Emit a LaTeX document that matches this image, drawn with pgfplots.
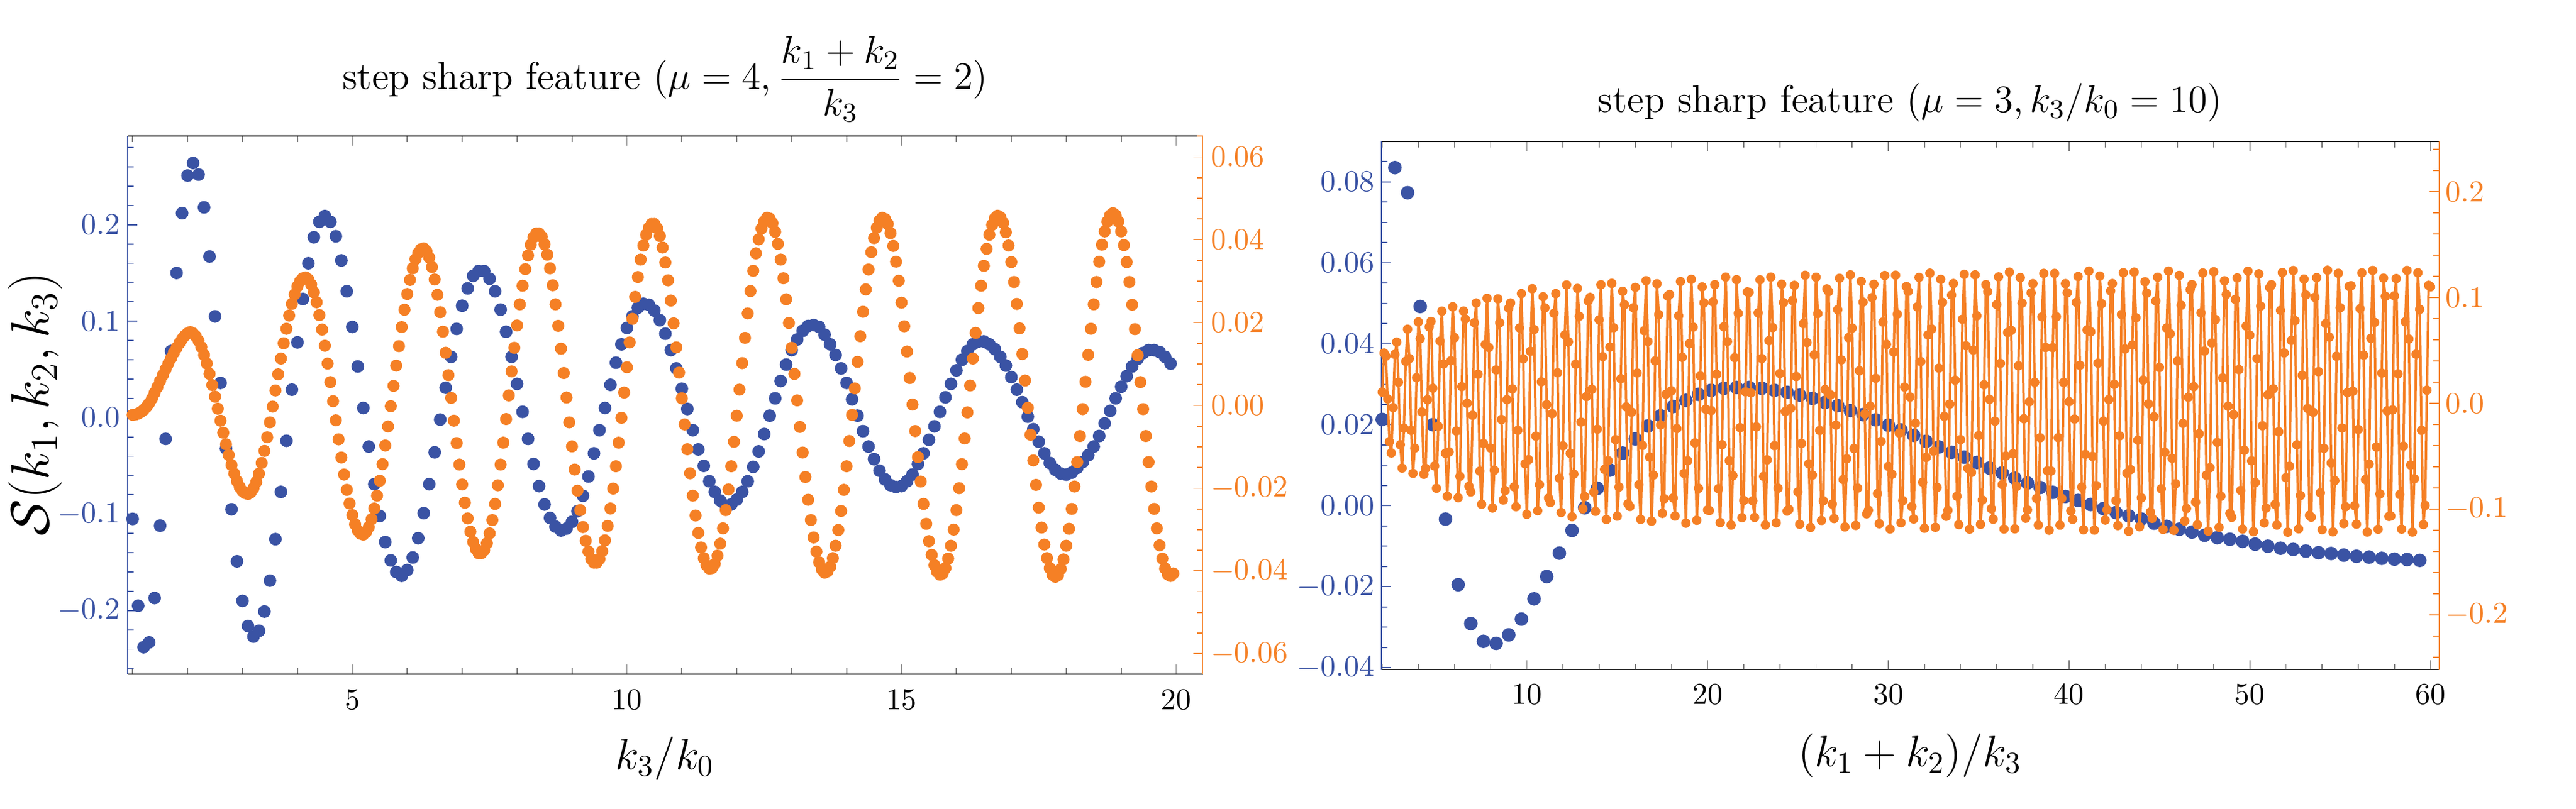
\documentclass[border=0pt]{standalone}
\usepackage{fix-cm}
\usepackage{pgfplots}
\pgfplotsset{compat=1.18}
\definecolor{sblue}{RGB}{58,83,164}
\definecolor{sorange}{RGB}{245,128,37}
\pgfplotsset{
  panel/.style={
    scale only axis, anchor=south west, clip=false,
    tick align=inside,
    major tick length=3.2pt, minor tick length=2pt,
    tick style={line width=0.35pt},
    axis line style={line width=0.35pt},
    tick label style={font=\fontsize{10}{12}\selectfont},
    scaled x ticks=false, scaled y ticks=false,
  },
}
\begin{document}
\begin{tikzpicture}
\useasboundingbox (0,0) rectangle (851.8pt,267.6pt);
% ---------------- left panel, blue series ----------------
\begin{axis}[panel,
  at={(42.1pt,44.62pt)}, width=355.6pt, height=177.92pt,
  xmin=0.903, xmax=20.485, ymin=-0.2659, ymax=0.2918,
  separate axis lines,
  x axis line style={black},
  y axis line style={sblue},
  xtick={5,10,15,20},
  minor xtick={1,2,3,4,6,7,8,9,11,12,13,14,16,17,18,19},
  xtick pos=both, xticklabel pos=left,
  ytick={-0.2,-0.1,0,0.1,0.2},
  minor ytick={-0.26,-0.24,-0.22,-0.18,-0.16,-0.14,-0.12,-0.08,-0.06,-0.04,-0.02,0.02,0.04,0.06,0.08,0.12,0.14,0.16,0.18,0.22,0.24,0.26,0.28},
  ytick pos=left,
  ytick style={color=sblue},
  xticklabel style={anchor=north, inner sep=0pt, yshift=-5pt},
  yticklabel style={color=sblue, anchor=east, inner sep=0pt, xshift=-2.3pt,
    /pgf/number format/fixed, /pgf/number format/fixed zerofill, /pgf/number format/precision=1},
]
\addplot[only marks, mark=*, mark size=1.9pt, color=sblue, mark options={draw=none}] coordinates {
(1.0,-0.105)(1.1,-0.195)(1.2,-0.238)(1.3,-0.233)(1.4,-0.187)(1.5,-0.112)(1.6,-0.022)(1.7,0.069)(1.8,0.150)(1.9,0.212)
(2.0,0.251)(2.1,0.264)(2.2,0.252)(2.3,0.218)(2.4,0.167)(2.5,0.105)(2.6,0.036)(2.7,-0.032)(2.8,-0.095)(2.9,-0.149)
(3.0,-0.190)(3.1,-0.216)(3.2,-0.227)(3.3,-0.221)(3.4,-0.201)(3.5,-0.169)(3.6,-0.126)(3.7,-0.077)(3.8,-0.024)(3.9,0.029)
(4.0,0.078)(4.1,0.123)(4.2,0.160)(4.3,0.187)(4.4,0.203)(4.5,0.209)(4.6,0.203)(4.7,0.188)(4.8,0.163)(4.9,0.131)
(5.0,0.094)(5.1,0.053)(5.2,0.010)(5.3,-0.030)(5.4,-0.069)(5.5,-0.102)(5.6,-0.129)(5.7,-0.148)(5.8,-0.160)(5.9,-0.164)
(6.0,-0.158)(6.1,-0.145)(6.2,-0.125)(6.3,-0.099)(6.4,-0.069)(6.5,-0.036)(6.6,-0.002)(6.7,0.031)(6.8,0.063)(6.9,0.092)
(7.0,0.116)(7.1,0.134)(7.2,0.147)(7.3,0.152)(7.4,0.152)(7.5,0.144)(7.6,0.131)(7.7,0.112)(7.8,0.089)(7.9,0.063)
(8.0,0.035)(8.1,0.006)(8.2,-0.022)(8.3,-0.048)(8.4,-0.071)(8.5,-0.090)(8.6,-0.104)(8.7,-0.113)(8.8,-0.117)(8.9,-0.115)
(9.0,-0.108)(9.1,-0.097)(9.2,-0.081)(9.3,-0.061)(9.4,-0.037)(9.5,-0.013)(9.6,0.010)(9.7,0.034)(9.8,0.057)(9.9,0.076)
(10.0,0.093)(10.1,0.105)(10.2,0.114)(10.3,0.118)(10.4,0.117)(10.5,0.111)(10.6,0.101)(10.7,0.087)(10.8,0.070)(10.9,0.051)
(11.0,0.030)(11.1,0.009)(11.2,-0.013)(11.3,-0.033)(11.4,-0.050)(11.5,-0.066)(11.6,-0.077)(11.7,-0.086)(11.8,-0.091)(11.9,-0.090)
(12.0,-0.085)(12.1,-0.077)(12.2,-0.066)(12.3,-0.051)(12.4,-0.035)(12.5,-0.017)(12.6,0.002)(12.7,0.020)(12.8,0.038)(12.9,0.055)
(13.0,0.070)(13.1,0.081)(13.2,0.090)(13.3,0.095)(13.4,0.096)(13.5,0.094)(13.6,0.086)(13.7,0.076)(13.8,0.065)(13.9,0.051)
(14.0,0.036)(14.1,0.019)(14.2,0.002)(14.3,-0.014)(14.4,-0.030)(14.5,-0.043)(14.6,-0.055)(14.7,-0.064)(14.8,-0.070)(14.9,-0.072)
(15.0,-0.071)(15.1,-0.066)(15.2,-0.059)(15.3,-0.048)(15.4,-0.037)(15.5,-0.023)(15.6,-0.009)(15.7,0.006)(15.8,0.021)(15.9,0.035)
(16.0,0.049)(16.1,0.060)(16.2,0.069)(16.3,0.076)(16.4,0.079)(16.5,0.079)(16.6,0.076)(16.7,0.071)(16.8,0.063)(16.9,0.054)
(17.0,0.042)(17.1,0.029)(17.2,0.016)(17.3,0.001)(17.4,-0.012)(17.5,-0.025)(17.6,-0.037)(17.7,-0.047)(17.8,-0.054)(17.9,-0.058)
(18.0,-0.059)(18.1,-0.057)(18.2,-0.052)(18.3,-0.046)(18.4,-0.039)(18.5,-0.030)(18.6,-0.019)(18.7,-0.006)(18.8,0.007)(18.9,0.020)
(19.0,0.032)(19.1,0.043)(19.2,0.053)(19.3,0.061)(19.4,0.067)(19.5,0.070)(19.6,0.070)(19.7,0.068)(19.8,0.063)(19.9,0.056)
};
\end{axis}
% ---------------- left panel, orange series ----------------
\begin{axis}[panel,
  at={(42.1pt,44.62pt)}, width=355.6pt, height=177.92pt,
  xmin=0.903, xmax=20.485, ymin=-0.0649, ymax=0.065,
  axis x line=none, axis y line*=right,
  y axis line style={sorange, -},
  xtick=\empty,
  ytick={-0.06,-0.04,-0.02,0,0.02,0.04,0.06},
  minor ytick={-0.065,-0.055,-0.05,-0.045,-0.035,-0.03,-0.025,-0.015,-0.01,-0.005,0.005,0.01,0.015,0.025,0.03,0.035,0.045,0.05,0.055,0.065},
  ytick style={color=sorange},
  yticklabel style={color=sorange, anchor=west, inner sep=0pt, xshift=2.5pt,
    /pgf/number format/fixed, /pgf/number format/fixed zerofill, /pgf/number format/precision=2},
]
\addplot[only marks, mark=*, mark size=1.8pt, color=sorange, mark options={draw=none}] coordinates {
(1.00,-0.0023)(1.05,-0.0022)(1.10,-0.0020)(1.15,-0.0016)(1.20,-0.0011)(1.25,-0.0004)(1.30,0.0005)(1.35,0.0016)(1.40,0.0030)(1.45,0.0044)
(1.50,0.0059)(1.55,0.0073)(1.60,0.0087)(1.65,0.0101)(1.70,0.0114)(1.75,0.0127)(1.80,0.0139)(1.85,0.0150)(1.90,0.0160)(1.95,0.0168)
(2.00,0.0174)(2.05,0.0177)(2.10,0.0174)(2.15,0.0167)(2.20,0.0156)(2.25,0.0141)(2.30,0.0122)(2.35,0.0101)(2.40,0.0076)(2.45,0.0049)
(2.50,0.0021)(2.55,-0.0008)(2.60,-0.0037)(2.65,-0.0066)(2.70,-0.0094)(2.75,-0.0120)(2.80,-0.0144)(2.85,-0.0165)(2.90,-0.0183)(2.95,-0.0197)
(3.00,-0.0207)(3.05,-0.0212)(3.10,-0.0214)(3.15,-0.0210)(3.20,-0.0200)(3.25,-0.0185)(3.30,-0.0165)(3.35,-0.0139)(3.40,-0.0110)(3.45,-0.0077)
(3.50,-0.0041)(3.55,-0.0003)(3.60,0.0036)(3.65,0.0075)(3.70,0.0113)(3.75,0.0150)(3.80,0.0185)(3.85,0.0217)(3.90,0.0245)(3.95,0.0268)
(4.00,0.0287)(4.05,0.0300)(4.10,0.0307)(4.15,0.0309)(4.20,0.0304)(4.25,0.0292)(4.30,0.0273)(4.35,0.0249)(4.40,0.0218)(4.45,0.0183)
(4.50,0.0144)(4.55,0.0101)(4.60,0.0056)(4.65,0.0010)(4.70,-0.0036)(4.75,-0.0082)(4.80,-0.0126)(4.85,-0.0167)(4.90,-0.0204)(4.95,-0.0237)
(5.00,-0.0265)(5.05,-0.0287)(5.10,-0.0302)(5.15,-0.0310)(5.20,-0.0312)(5.25,-0.0306)(5.30,-0.0294)(5.35,-0.0275)(5.40,-0.0249)(5.45,-0.0218)
(5.50,-0.0182)(5.55,-0.0142)(5.60,-0.0097)(5.65,-0.0051)(5.70,-0.0002)(5.75,0.0047)(5.80,0.0096)(5.85,0.0143)(5.90,0.0189)(5.95,0.0231)
(6.00,0.0269)(6.05,0.0303)(6.10,0.0331)(6.15,0.0353)(6.20,0.0368)(6.25,0.0377)(6.30,0.0379)(6.35,0.0372)(6.40,0.0357)(6.45,0.0334)
(6.50,0.0304)(6.55,0.0267)(6.60,0.0225)(6.65,0.0178)(6.70,0.0127)(6.75,0.0073)(6.80,0.0018)(6.85,-0.0037)(6.90,-0.0091)(6.95,-0.0143)
(7.00,-0.0191)(7.05,-0.0235)(7.10,-0.0273)(7.15,-0.0305)(7.20,-0.0330)(7.25,-0.0347)(7.30,-0.0357)(7.35,-0.0357)(7.40,-0.0350)(7.45,-0.0333)
(7.50,-0.0309)(7.55,-0.0277)(7.60,-0.0238)(7.65,-0.0193)(7.70,-0.0143)(7.75,-0.0090)(7.80,-0.0033)(7.85,0.0024)(7.90,0.0082)(7.95,0.0139)
(8.00,0.0193)(8.05,0.0244)(8.10,0.0289)(8.15,0.0329)(8.20,0.0362)(8.25,0.0388)(8.30,0.0406)(8.35,0.0415)(8.40,0.0415)(8.45,0.0407)
(8.50,0.0389)(8.55,0.0364)(8.60,0.0331)(8.65,0.0290)(8.70,0.0244)(8.75,0.0192)(8.80,0.0137)(8.85,0.0078)(8.90,0.0019)(8.95,-0.0041)
(9.00,-0.0099)(9.05,-0.0155)(9.10,-0.0206)(9.15,-0.0253)(9.20,-0.0294)(9.25,-0.0327)(9.30,-0.0353)(9.35,-0.0371)(9.40,-0.0380)(9.45,-0.0380)
(9.50,-0.0371)(9.55,-0.0352)(9.60,-0.0326)(9.65,-0.0291)(9.70,-0.0249)(9.75,-0.0201)(9.80,-0.0147)(9.85,-0.0090)(9.90,-0.0030)(9.95,0.0031)
(10.00,0.0092)(10.05,0.0152)(10.10,0.0209)(10.15,0.0262)(10.20,0.0310)(10.25,0.0352)(10.30,0.0386)(10.35,0.0412)(10.40,0.0429)(10.45,0.0438)
(10.50,0.0438)(10.55,0.0428)(10.60,0.0409)(10.65,0.0381)(10.70,0.0345)(10.75,0.0302)(10.80,0.0253)(10.85,0.0198)(10.90,0.0140)(10.95,0.0079)
(11.00,0.0017)(11.05,-0.0046)(11.10,-0.0106)(11.15,-0.0164)(11.20,-0.0218)(11.25,-0.0266)(11.30,-0.0308)(11.35,-0.0343)(11.40,-0.0369)(11.45,-0.0386)
(11.50,-0.0394)(11.55,-0.0393)(11.60,-0.0383)(11.65,-0.0363)(11.70,-0.0334)(11.75,-0.0297)(11.80,-0.0253)(11.85,-0.0203)(11.90,-0.0147)(11.95,-0.0088)
(12.00,-0.0025)(12.05,0.0038)(12.10,0.0102)(12.15,0.0163)(12.20,0.0222)(12.25,0.0276)(12.30,0.0325)(12.35,0.0367)(12.40,0.0401)(12.45,0.0427)
(12.50,0.0444)(12.55,0.0453)(12.60,0.0451)(12.65,0.0440)(12.70,0.0419)(12.75,0.0390)(12.80,0.0352)(12.85,0.0307)(12.90,0.0256)(12.95,0.0199)
(13.00,0.0139)(13.05,0.0076)(13.10,0.0012)(13.15,-0.0052)(13.20,-0.0114)(13.25,-0.0173)(13.30,-0.0228)(13.35,-0.0277)(13.40,-0.0319)(13.45,-0.0353)
(13.50,-0.0379)(13.55,-0.0396)(13.60,-0.0404)(13.65,-0.0401)(13.70,-0.0390)(13.75,-0.0369)(13.80,-0.0339)(13.85,-0.0301)(13.90,-0.0255)(13.95,-0.0204)
(14.00,-0.0147)(14.05,-0.0086)(14.10,-0.0023)(14.15,0.0041)(14.20,0.0105)(14.25,0.0167)(14.30,0.0226)(14.35,0.0280)(14.40,0.0328)(14.45,0.0370)
(14.50,0.0404)(14.55,0.0429)(14.60,0.0446)(14.65,0.0453)(14.70,0.0450)(14.75,0.0438)(14.80,0.0416)(14.85,0.0385)(14.90,0.0347)(14.95,0.0301)
(15.00,0.0248)(15.05,0.0191)(15.10,0.0130)(15.15,0.0066)(15.20,0.0002)(15.25,-0.0062)(15.30,-0.0125)(15.35,-0.0184)(15.40,-0.0238)(15.45,-0.0286)
(15.50,-0.0328)(15.55,-0.0361)(15.60,-0.0386)(15.65,-0.0402)(15.70,-0.0409)(15.75,-0.0406)(15.80,-0.0393)(15.85,-0.0370)(15.90,-0.0339)(15.95,-0.0300)
(16.00,-0.0253)(16.05,-0.0200)(16.10,-0.0142)(16.15,-0.0080)(16.20,-0.0017)(16.25,0.0048)(16.30,0.0113)(16.35,0.0175)(16.40,0.0235)(16.45,0.0289)
(16.50,0.0337)(16.55,0.0378)(16.60,0.0412)(16.65,0.0436)(16.70,0.0452)(16.75,0.0458)(16.80,0.0454)(16.85,0.0441)(16.90,0.0418)(16.95,0.0386)
(17.00,0.0346)(17.05,0.0298)(17.10,0.0245)(17.15,0.0186)(17.20,0.0124)(17.25,0.0060)(17.30,-0.0006)(17.35,-0.0071)(17.40,-0.0133)(17.45,-0.0192)
(17.50,-0.0247)(17.55,-0.0295)(17.60,-0.0336)(17.65,-0.0369)(17.70,-0.0393)(17.75,-0.0409)(17.80,-0.0414)(17.85,-0.0410)(17.90,-0.0395)(17.95,-0.0372)
(18.00,-0.0339)(18.05,-0.0298)(18.10,-0.0250)(18.15,-0.0196)(18.20,-0.0137)(18.25,-0.0074)(18.30,-0.0009)(18.35,0.0057)(18.40,0.0122)(18.45,0.0185)
(18.50,0.0244)(18.55,0.0298)(18.60,0.0347)(18.65,0.0388)(18.70,0.0420)(18.75,0.0444)(18.80,0.0459)(18.85,0.0464)(18.90,0.0459)(18.95,0.0444)
(19.00,0.0420)(19.05,0.0387)(19.10,0.0346)(19.15,0.0298)(19.20,0.0243)(19.25,0.0184)(19.30,0.0121)(19.35,0.0056)(19.40,-0.0009)(19.45,-0.0074)
(19.50,-0.0137)(19.55,-0.0196)(19.60,-0.0250)(19.65,-0.0297)(19.70,-0.0338)(19.75,-0.0370)(19.80,-0.0394)(19.85,-0.0408)(19.90,-0.0412)(19.95,-0.0406)
};
\end{axis}
% ---------------- right panel, blue series ----------------
\begin{axis}[panel,
  at={(456.76pt,46.08pt)}, width=349.78pt, height=174.78pt,
  xmin=1.95, xmax=60.475, ymin=-0.0405, ymax=0.0900,
  separate axis lines,
  x axis line style={black},
  y axis line style={sblue},
  xtick={10,20,30,40,50,60},
  minor xtick={2,4,6,8,12,14,16,18,22,24,26,28,32,34,36,38,42,44,46,48,52,54,56,58},
  xtick pos=both, xticklabel pos=left,
  ytick={-0.04,-0.02,0,0.02,0.04,0.06,0.08},
  minor ytick={-0.035,-0.03,-0.025,-0.015,-0.01,-0.005,0.005,0.01,0.015,0.025,0.03,0.035,0.045,0.05,0.055,0.065,0.07,0.075,0.085,0.09},
  ytick pos=left,
  ytick style={color=sblue},
  xticklabel style={anchor=north, inner sep=0pt, yshift=-4.7pt},
  yticklabel style={color=sblue, anchor=east, inner sep=0pt, xshift=-2.1pt,
    /pgf/number format/fixed, /pgf/number format/fixed zerofill, /pgf/number format/precision=2},
]
\addplot[only marks, mark=*, mark size=2.05pt, color=sblue, mark options={draw=none}] coordinates {
(2.0,0.0213)(2.7,0.0835)(3.4,0.0773)(4.1,0.0492)(4.8,0.0200)(5.5,-0.0033)(6.2,-0.0195)(6.9,-0.0291)(7.6,-0.0335)(8.3,-0.0340)
(9.0,-0.0319)(9.7,-0.0280)(10.4,-0.0230)(11.1,-0.0175)(11.8,-0.0117)(12.5,-0.0061)(13.2,-0.0005)(13.9,0.0043)(14.6,0.0088)(15.3,0.0130)
(16.0,0.0165)(16.7,0.0197)(17.4,0.0222)(18.1,0.0245)(18.8,0.0260)(19.5,0.0275)(20.2,0.0285)(20.9,0.0290)(21.6,0.0292)(22.3,0.0292)
(23.0,0.0290)(23.7,0.0285)(24.4,0.0280)(25.1,0.0273)(25.8,0.0265)(26.5,0.0255)(27.2,0.0247)(27.9,0.0235)(28.6,0.0225)(29.3,0.0212)
(30.0,0.0199)(30.7,0.0187)(31.4,0.0174)(32.1,0.0159)(32.8,0.0145)(33.5,0.0132)(34.2,0.0120)(34.9,0.0107)(35.6,0.0093)(36.3,0.0081)
(37.0,0.0068)(37.7,0.0056)(38.4,0.0045)(39.1,0.0033)(39.8,0.0023)(40.5,0.0013)(41.2,0.0003)(41.9,-0.0007)(42.6,-0.0017)(43.3,-0.0025)
(44.0,-0.0033)(44.7,-0.0043)(45.4,-0.0051)(46.1,-0.0058)(46.8,-0.0065)(47.5,-0.0073)(48.2,-0.0079)(48.9,-0.0083)(49.6,-0.0088)(50.3,-0.0095)
(51.0,-0.0100)(51.7,-0.0105)(52.4,-0.0108)(53.1,-0.0112)(53.8,-0.0116)(54.5,-0.0118)(55.2,-0.0122)(55.9,-0.0125)(56.6,-0.0127)(57.3,-0.0130)
(58.0,-0.0132)(58.7,-0.0133)(59.4,-0.0135)
};
\end{axis}
% ---------------- right panel, orange series ----------------
\begin{axis}[panel,
  at={(456.76pt,46.08pt)}, width=349.78pt, height=174.78pt,
  xmin=1.95, xmax=60.475, ymin=-0.2519, ymax=0.2477,
  axis x line=none, axis y line*=right,
  y axis line style={sorange, -},
  xtick=\empty,
  ytick={-0.2,-0.1,0,0.1,0.2},
  minor ytick={-0.24,-0.22,-0.18,-0.16,-0.14,-0.12,-0.08,-0.06,-0.04,-0.02,0.02,0.04,0.06,0.08,0.12,0.14,0.16,0.18,0.22,0.24},
  ytick style={color=sorange},
  yticklabel style={color=sorange, anchor=west, inner sep=0pt, xshift=2pt,
    /pgf/number format/fixed, /pgf/number format/fixed zerofill, /pgf/number format/precision=1},
]
\addplot[color=sorange, line width=0.8pt, line join=round, mark=*, mark size=1.15pt, mark options={draw=none, fill=sorange}] coordinates {
(2.0,0.0106)(2.1,0.0475)(2.2,0.0445)(2.3,0.0042)(2.4,-0.0363)(2.5,-0.0470)(2.6,-0.0042)(2.7,0.0462)(2.8,0.0578)(2.9,0.0199)
(3.0,-0.0392)(3.1,-0.0613)(3.2,-0.0235)(3.3,0.0396)(3.4,0.0700)(3.5,0.0423)(3.6,-0.0255)(3.7,-0.0663)(3.8,-0.0424)(3.9,0.0242)
(4.0,0.0769)(4.1,0.0611)(4.2,-0.0082)(4.3,-0.0671)(4.4,-0.0616)(4.5,0.0033)(4.6,0.0722)(4.7,0.0774)(4.8,0.0142)(4.9,-0.0593)
(5.0,-0.0804)(5.1,-0.0217)(5.2,0.0588)(5.3,0.0871)(5.4,0.0371)(5.5,-0.0473)(5.6,-0.0880)(5.7,-0.0460)(5.8,0.0402)(5.9,0.0912)
(6.0,0.0620)(6.1,-0.0262)(6.2,-0.0893)(6.3,-0.0691)(6.4,0.0157)(6.5,0.0872)(6.6,0.0796)(6.7,0.0000)(6.8,-0.0785)(6.9,-0.0838)
(7.0,-0.0113)(7.1,0.0762)(7.2,0.0948)(7.3,0.0274)(7.4,-0.0642)(7.5,-0.0955)(7.6,-0.0380)(7.7,0.0556)(7.8,0.0992)(7.9,0.0527)
(8.0,-0.0424)(8.1,-0.0990)(8.2,-0.0634)(8.3,0.0315)(8.4,0.0987)(8.5,0.0761)(8.6,-0.0153)(8.7,-0.0915)(8.8,-0.0826)(8.9,0.0034)
(9.0,0.0899)(9.1,0.0948)(9.2,0.0136)(9.3,-0.0790)(9.4,-0.0978)(9.5,-0.0256)(9.6,0.0712)(9.7,0.1037)(9.8,0.0420)(9.9,-0.0572)
(10.0,-0.1050)(10.1,-0.0534)(10.2,0.0491)(10.3,0.1083)(10.4,0.0697)(10.5,-0.0311)(10.6,-0.1016)(10.7,-0.0769)(10.8,0.0203)(10.9,0.1007)
(11.0,0.0902)(11.1,-0.0013)(11.2,-0.0897)(11.3,-0.0939)(11.4,-0.0099)(11.5,0.0851)(11.6,0.1037)(11.7,0.0288)(11.8,-0.0708)(11.9,-0.1033)
(12.0,-0.0402)(12.1,0.0647)(12.2,0.1119)(12.3,0.0581)(12.4,-0.0473)(12.5,-0.1073)(12.6,-0.0670)(12.7,0.0369)(12.8,0.1086)(12.9,0.0823)
(13.0,-0.0178)(13.1,-0.0998)(13.2,-0.0882)(13.3,0.0064)(13.4,0.0968)(13.5,0.1001)(13.6,0.0132)(13.7,-0.0840)(13.8,-0.1022)(13.9,-0.0245)
(14.0,0.0788)(14.1,0.1121)(14.2,0.0441)(14.3,-0.0625)(14.4,-0.1099)(14.5,-0.0543)(14.6,0.0531)(14.7,0.1134)(14.8,0.0714)(14.9,-0.0344)
(15.0,-0.1068)(15.1,-0.0792)(15.2,0.0232)(15.3,0.1059)(15.4,0.0932)(15.5,-0.0034)(15.6,-0.0951)(15.7,-0.0976)(15.8,-0.0084)(15.9,0.0903)
(16.0,0.1096)(16.1,0.0286)(16.2,-0.0770)(16.3,-0.1098)(16.4,-0.0398)(16.5,0.0686)(16.6,0.1159)(16.7,0.0584)(16.8,-0.0509)(16.9,-0.1115)
(17.0,-0.0679)(17.1,0.0401)(17.2,0.1130)(17.3,0.0839)(17.4,-0.0205)(17.5,-0.1041)(17.6,-0.0902)(17.7,0.0085)(17.8,0.1013)(17.9,0.1028)
(18.0,0.0117)(18.1,-0.0895)(18.2,-0.1067)(18.3,-0.0239)(18.4,0.0827)(18.5,0.1151)(18.6,0.0435)(18.7,-0.0663)(18.8,-0.1133)(18.9,-0.0544)
(19.0,0.0564)(19.1,0.1172)(19.2,0.0720)(19.3,-0.0375)(19.4,-0.1106)(19.5,-0.0804)(19.6,0.0258)(19.7,0.1100)(19.8,0.0949)(19.9,-0.0056)
(20.0,-0.1009)(20.1,-0.1014)(20.2,-0.0069)(20.3,0.0958)(20.4,0.1122)(20.5,0.0274)(20.6,-0.0808)(20.7,-0.1129)(20.8,-0.0392)(20.9,0.0723)
(21.0,0.1193)(21.1,0.0584)(21.2,-0.0543)(21.3,-0.1151)(21.4,-0.0684)(21.5,0.0431)(21.6,0.1168)(21.7,0.0850)(21.8,-0.0231)(21.9,-0.1082)
(22.0,-0.0919)(22.1,0.0108)(22.2,0.1053)(22.3,0.1049)(22.4,0.0099)(22.5,-0.0922)(22.6,-0.1079)(22.7,-0.0223)(22.8,0.0855)(22.9,0.1167)
(23.0,0.0423)(23.1,-0.0691)(23.2,-0.1151)(23.3,-0.0535)(23.4,0.0592)(23.5,0.1193)(23.6,0.0716)(23.7,-0.0401)(23.8,-0.1130)(23.9,-0.0803)
(24.0,0.0282)(24.1,0.1126)(24.2,0.0952)(24.3,-0.0078)(24.4,-0.1019)(24.5,-0.1003)(24.6,-0.0048)(24.7,0.0971)(24.8,0.1115)(24.9,0.0253)
(25.0,-0.0838)(25.1,-0.1144)(25.2,-0.0380)(25.3,0.0753)(25.4,0.1210)(25.5,0.0574)(25.6,-0.0572)(25.7,-0.1174)(25.8,-0.0679)(25.9,0.0459)
(26.0,0.1192)(26.1,0.0848)(26.2,-0.0257)(26.3,-0.1108)(26.4,-0.0922)(26.5,0.0130)(26.6,0.1081)(26.7,0.1056)(26.8,0.0079)(26.9,-0.0953)
(27.0,-0.1090)(27.1,-0.0207)(27.2,0.0885)(27.3,0.1182)(27.4,0.0410)(27.5,-0.0721)(27.6,-0.1169)(27.7,-0.0525)(27.8,0.0620)(27.9,0.1214)
(28.0,0.0711)(28.1,-0.0428)(28.2,-0.1155)(28.3,-0.0802)(28.4,0.0307)(28.5,0.1152)(28.6,0.0956)(28.7,-0.0101)(28.8,-0.1046)(28.9,-0.1011)
(29.0,-0.0028)(29.1,0.0999)(29.2,0.1125)(29.3,0.0236)(29.4,-0.0854)(29.5,-0.1139)(29.6,-0.0360)(29.7,0.0768)(29.8,0.1208)(29.9,0.0557)
(30.0,-0.0597)(30.1,-0.1189)(30.2,-0.0671)(30.3,0.0485)(30.4,0.1211)(30.5,0.0843)(30.6,-0.0281)(30.7,-0.1130)(30.8,-0.0920)(30.9,0.0153)
(31.0,0.1104)(31.1,0.1058)(31.2,0.0059)(31.3,-0.0977)(31.4,-0.1094)(31.5,-0.0188)(31.6,0.0911)(31.7,0.1190)(31.8,0.0394)(31.9,-0.0746)
(32.0,-0.1182)(32.1,-0.0512)(32.2,0.0646)(32.3,0.1230)(32.4,0.0701)(32.5,-0.0453)(32.6,-0.1173)(32.7,-0.0796)(32.8,0.0332)(32.9,0.1172)
(33.0,0.0954)(33.1,-0.0124)(33.2,-0.1069)(33.3,-0.1012)(33.4,-0.0008)(33.5,0.1023)(33.6,0.1132)(33.7,0.0218)(33.8,-0.0879)(33.9,-0.1148)
(34.0,-0.0344)(34.1,0.0794)(34.2,0.1220)(34.3,0.0544)(34.4,-0.0615)(34.5,-0.1190)(34.6,-0.0653)(34.7,0.0503)(34.8,0.1214)(34.9,0.0827)
(35.0,-0.0305)(35.1,-0.1145)(35.2,-0.0915)(35.3,0.0175)(35.4,0.1122)(35.5,0.1056)(35.6,0.0037)(35.7,-0.0997)(35.8,-0.1096)(35.9,-0.0169)
(36.0,0.0933)(36.1,0.1195)(36.2,0.0377)(36.3,-0.0769)(36.4,-0.1189)(36.5,-0.0499)(36.6,0.0669)(36.7,0.1240)(36.8,0.0689)(36.9,-0.0477)
(37.0,-0.1187)(37.1,-0.0786)(37.2,0.0354)(37.3,0.1188)(37.4,0.0947)(37.5,-0.0146)(37.6,-0.1087)(37.7,-0.1008)(37.8,0.0014)(37.9,0.1044)
(38.0,0.1131)(38.1,0.0198)(38.2,-0.0900)(38.3,-0.1152)(38.4,-0.0326)(38.5,0.0817)(38.6,0.1228)(38.7,0.0528)(38.8,-0.0639)(38.9,-0.1200)
(39.0,-0.0640)(39.1,0.0526)(39.2,0.1228)(39.3,0.0818)(39.4,-0.0325)(39.5,-0.1152)(39.6,-0.0900)(39.7,0.0197)(39.8,0.1131)(39.9,0.1045)
(40.0,0.0015)(40.1,-0.1017)(40.2,-0.1097)(40.3,-0.0149)(40.4,0.0954)(40.5,0.1198)(40.6,0.0359)(40.7,-0.0792)(40.8,-0.1196)(40.9,-0.0483)
(41.0,0.0693)(41.1,0.1250)(41.2,0.0676)(41.3,-0.0502)(41.4,-0.1199)(41.5,-0.0777)(41.6,0.0379)(41.7,0.1203)(41.8,0.0941)(41.9,-0.0169)
(42.0,-0.1104)(42.1,-0.1007)(42.2,0.0035)(42.3,0.1063)(42.4,0.1132)(42.5,0.0179)(42.6,-0.0921)(42.7,-0.1156)(42.8,-0.0308)(42.9,0.0839)
(43.0,0.1234)(43.1,0.0513)(43.2,-0.0661)(43.3,-0.1210)(43.4,-0.0627)(43.5,0.0550)(43.6,0.1240)(43.7,0.0808)(43.8,-0.0349)(43.9,-0.1167)
(44.0,-0.0894)(44.1,0.0219)(44.2,0.1149)(44.3,0.1041)(44.4,-0.0006)(44.5,-0.1028)(44.6,-0.1088)(44.7,-0.0128)(44.8,0.0967)(44.9,0.1192)
(45.0,0.0339)(45.1,-0.0808)(45.2,-0.1193)(45.3,-0.0463)(45.4,0.0711)(45.5,0.1250)(45.6,0.0657)(45.7,-0.0520)(45.8,-0.1201)(45.9,-0.0760)
(46.0,0.0399)(46.1,0.1209)(46.2,0.0927)(46.3,-0.0190)(46.4,-0.1113)(46.5,-0.0995)(46.6,0.0057)(46.7,0.1074)(46.8,0.1122)(46.9,0.0157)
(47.0,-0.0934)(47.1,-0.1149)(47.2,-0.0288)(47.3,0.0855)(47.4,0.1232)(47.5,0.0494)(47.6,-0.0680)(47.7,-0.1209)(47.8,-0.0609)(47.9,0.0570)
(48.0,0.1243)(48.1,0.0791)(48.2,-0.0370)(48.3,-0.1173)(48.4,-0.0879)(48.5,0.0240)(48.6,0.1158)(48.7,0.1029)(48.8,-0.0028)(48.9,-0.1040)
(49.0,-0.1078)(49.1,-0.0107)(49.2,0.0982)(49.3,0.1185)(49.4,0.0318)(49.5,-0.0824)(49.6,-0.1189)(49.7,-0.0444)(49.8,0.0730)(49.9,0.1249)
(50.0,0.0644)(50.1,-0.0544)(50.2,-0.1214)(50.3,-0.0749)(50.4,0.0423)(50.5,0.1224)(50.6,0.0919)(50.7,-0.0213)(50.8,-0.1131)(50.9,-0.0991)
(51.0,0.0080)(51.1,0.1094)(51.2,0.1121)(51.3,0.0137)(51.4,-0.0956)(51.5,-0.1151)(51.6,-0.0269)(51.7,0.0878)(51.8,0.1236)(51.9,0.0476)
(52.0,-0.0703)(52.1,-0.1219)(52.2,-0.0595)(52.3,0.0594)(52.4,0.1255)(52.5,0.0781)(52.6,-0.0393)(52.7,-0.1187)(52.8,-0.0872)(52.9,0.0264)
(53.0,0.1174)(53.1,0.1024)(53.2,-0.0049)(53.3,-0.1060)(53.4,-0.1077)(53.5,-0.0085)(53.6,0.1002)(53.7,0.1187)(53.8,0.0299)(53.9,-0.0847)
(54.0,-0.1195)(54.1,-0.0426)(54.2,0.0753)(54.3,0.1258)(54.4,0.0625)(54.5,-0.0564)(54.6,-0.1216)(54.7,-0.0731)(54.8,0.0444)(54.9,0.1229)
(55.0,0.0904)(55.1,-0.0234)(55.2,-0.1138)(55.3,-0.0978)(55.4,0.0101)(55.5,0.1105)(55.6,0.1111)(55.7,0.0114)(55.8,-0.0968)(55.9,-0.1143)
(56.0,-0.0248)(56.1,0.0894)(56.2,0.1233)(56.3,0.0455)(56.4,-0.0722)(56.5,-0.1218)(56.6,-0.0575)(56.7,0.0614)(56.8,0.1256)(56.9,0.0764)
(57.0,-0.0414)(57.1,-0.1191)(57.2,-0.0857)(57.3,0.0285)(57.4,0.1183)(57.5,0.1011)(57.6,-0.0072)(57.7,-0.1070)(57.8,-0.1066)(57.9,-0.0063)
(58.0,0.1016)(58.1,0.1179)(58.2,0.0278)(58.3,-0.0863)(58.4,-0.1190)(58.5,-0.0405)(58.6,0.0770)(58.7,0.1256)(58.8,0.0607)(58.9,-0.0584)
(59.0,-0.1218)(59.1,-0.0714)(59.2,0.0464)(59.3,0.1234)(59.4,0.0888)(59.5,-0.0255)(59.6,-0.1147)(59.7,-0.0965)(59.8,0.0123)(59.9,0.1115)
(60.0,0.1101)
};
\end{axis}
% ---------------- titles and labels ----------------
\node[anchor=base] at (219.9pt,238.0pt) {\fontsize{12.8}{15}\selectfont step sharp feature $(\mu=4,\displaystyle\frac{k_1+k_2}{k_3}=2)$};
\node[anchor=base] at (631.6pt,230.4pt) {\fontsize{12.7}{15}\selectfont step sharp feature $(\mu=3,k_3/k_0=10)$};
\node[anchor=base] at (219.9pt,13.06pt) {\fontsize{14.4}{17}\selectfont $k_3/k_0$};
\node[anchor=base] at (631.6pt,14.0pt) {\fontsize{14.4}{17}\selectfont $(k_1+k_2)/k_3$};
\node[anchor=base, rotate=90, inner sep=0pt] at (16.2pt,134.0pt) {\fontsize{17.8}{21}\selectfont $\mathcal{S}(k_1,k_2,k_3)$};
\end{tikzpicture}
\end{document}
